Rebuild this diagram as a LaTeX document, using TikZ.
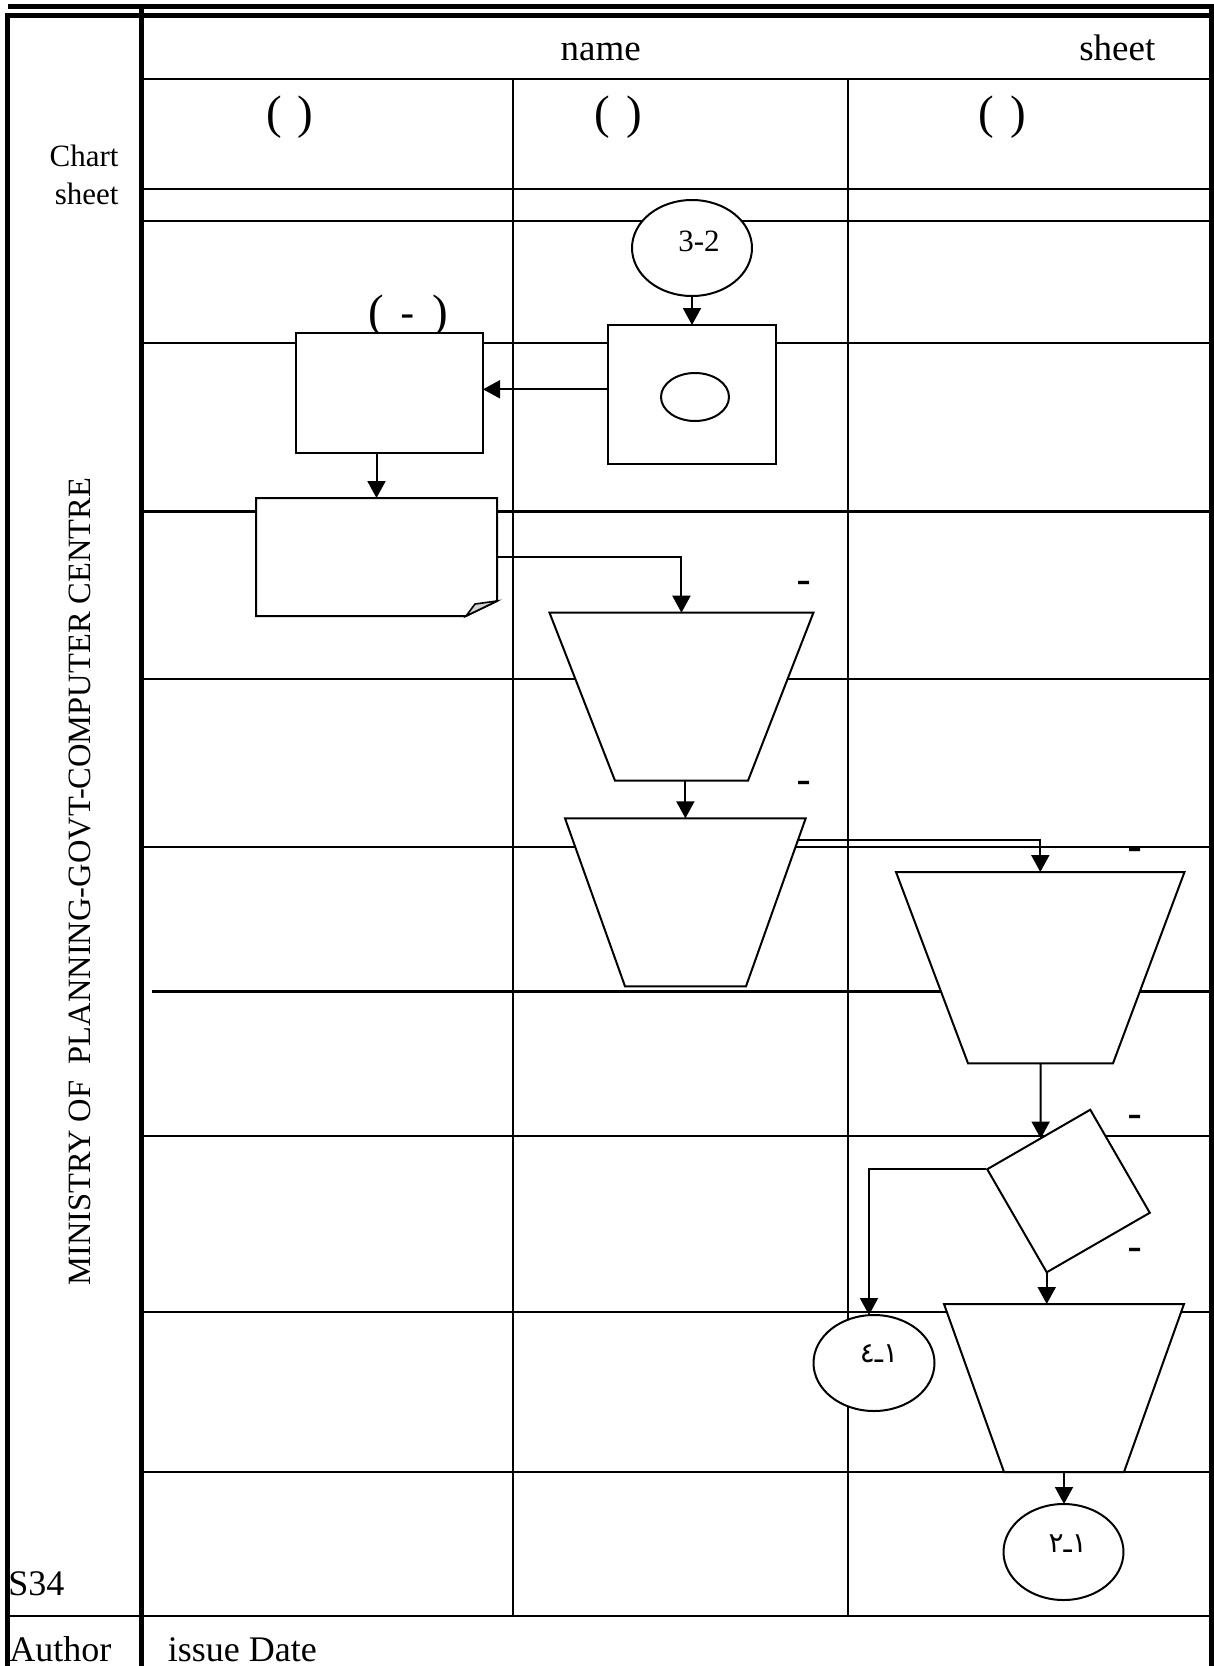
\documentclass[tikz,border=0pt]{standalone}
\usepackage{fontspec}
\setmainfont{Liberation Serif}
\newfontfamily\arabicfont[Script=Arabic]{DejaVu Sans}
\TeXXeTstate=1
\usetikzlibrary{shapes.geometric,arrows.meta}
\tikzset{
  borderline/.style={line width=2.5pt},
  gridline/.style={line width=1.1pt},
  shapebox/.style={draw, fill=white, line width=1pt, inner sep=0pt, outer sep=0pt},
  trapline/.style={draw, fill=white, line width=1pt},
  conn/.style={line width=1pt, -{Triangle[width=9pt,length=8.5pt]}},
  txt/.style={anchor=base, inner sep=0pt, outer sep=0pt},
  dashlbl/.style={txt, font=\arabicfont\fontsize{21pt}{21pt}\selectfont},
  big/.style={font=\fontsize{18.5pt}{18.5pt}\selectfont},
  paren/.style={font=\fontsize{23.5pt}{23.5pt}\selectfont},
}
\begin{document}
\begin{tikzpicture}[x=0.5pt,y=-0.5pt]
\useasboundingbox (0,0) rectangle (1214,1666);
\fill[white] (0,0) rectangle (1214,1666);

% outer frame
\draw[borderline] (8,6.7) -- (1209,6.7);
\draw[borderline] (5,15.8) -- (1214,15.8);
\draw[borderline] (7.5,13.3) -- (7.5,1666);
\draw[borderline] (141,4.3) -- (141,1666);
\draw[borderline] (1211.5,4.3) -- (1211.5,1666);

% grid
\foreach \yy in {79.3,189.3,220.7,343.3,511.5,679,847,1135.7,1311.7,1471.8}
  \draw[gridline] (141,\yy) -- (1211,\yy);
\draw[gridline] (152,991.5) -- (1211,991.5);
\draw[gridline] (7.5,1616.3) -- (1211,1616.3);
\draw[gridline] (513,79.3) -- (513,1616.3);
\draw[gridline] (848.3,79.3) -- (848.3,1616.3);

% header texts
\node[txt,big] (hname) at (600.7,60) {name};
\node[txt,big] (hsheet) at (1117.3,60) {sheet};
\node[txt,paren] (p1) at (290,128) {(\kern2pt\ )};
\node[txt,paren] (p2) at (618.3,128) {(\kern2pt\ )};
\node[txt,paren] (p3) at (1002.5,128) {(\kern2pt\ )};
\node[anchor=base east, inner sep=0pt, font=\fontsize{15.5pt}{15.5pt}\selectfont] (chart) at (119,166.7) {Chart};
\node[anchor=base east, inner sep=0pt, font=\fontsize{15.5pt}{15.5pt}\selectfont] (chsheet) at (119,204) {sheet};
\node[txt, rotate=90, font=\fontsize{16.25pt}{16.25pt}\selectfont] (ministry) at (90,881.5) {MINISTRY OF~~PLANNING-GOVT-COMPUTER CENTRE};
\node[anchor=base west, inner sep=0pt, font=\fontsize{18pt}{18pt}\selectfont] (s34) at (8,1595) {S34};
\node[anchor=base west, inner sep=0pt, font=\fontsize{18pt}{18pt}\selectfont] (author) at (9,1661) {Author};
\node[anchor=base west, inner sep=0pt, font=\fontsize{18pt}{18pt}\selectfont] (idate) at (167.5,1661) {issue Date};

% label above rectA (partly hidden by the box)
\node[txt,paren] (lblA) at (408,327) {(\kern8.5pt{\arabicfont\fontsize{20pt}{20pt}\selectfont -}\kern8.5pt)};

% shapes
\node[shapebox, ellipse, minimum width=60pt, minimum height=48pt] (circA) at (692,248) {};
\node[shapebox, rectangle, minimum width=84pt, minimum height=69.5pt] (rectB) at (692,394.5) {};
\node[shapebox, ellipse, minimum width=34pt, minimum height=24pt] (disk) at (695,397) {};
\node[shapebox, rectangle, minimum width=93.5pt, minimum height=60pt] (rectA) at (389.5,393) {};
\node[inner sep=0pt, outer sep=0pt, minimum width=120.5pt, minimum height=59pt] (doc) at (376.5,557) {};
\draw[fill=white, line width=1pt] (doc.north west) -- (doc.north east) -- ([yshift=7.5pt]doc.south east)
  -- ([xshift=-15.5pt]doc.south east) -- (doc.south west) -- cycle;
\draw[fill=gray!35, line width=0.8pt] ([xshift=-15.5pt]doc.south east) -- ([xshift=-11pt,yshift=6pt]doc.south east)
  -- ([yshift=7.5pt]doc.south east) -- cycle;

% trapezoids (manual operations)
\draw[trapline] (549.5,612.7) coordinate (t1nw) -- (813.4,612.7) coordinate (t1ne)
  -- (748,780.7) coordinate (t1se) -- (615,780.7) coordinate (t1sw) -- cycle;
\coordinate (t1n) at (681.45,612.7);
\coordinate (t1s) at (681.5,780.7);
\draw[trapline] (565,818.3) coordinate (t2nw) -- (805.7,818.3) coordinate (t2ne)
  -- (746,986.3) coordinate (t2se) -- (625,986.3) coordinate (t2sw) -- cycle;
\coordinate (t2n) at (685.4,818.3);
\coordinate (t2r) at (798,840);
\draw[trapline] (896,872) coordinate (t3nw) -- (1184.5,872) coordinate (t3ne)
  -- (1113,1063.3) coordinate (t3se) -- (968,1063.3) coordinate (t3sw) -- cycle;
\coordinate (t3n) at (1040.3,872);
\coordinate (t3s) at (1040.5,1063.3);
\node[shapebox, rectangle, minimum width=59.5pt, minimum height=59.5pt, rotate=30] (diam) at (1068.5,1191) {};
\node[shapebox, ellipse, minimum width=60.5pt, minimum height=48pt] (circC) at (874,1363) {};
\draw[trapline] (944,1304) coordinate (t4nw) -- (1184,1304) coordinate (t4ne)
  -- (1124,1472) coordinate (t4se) -- (1004,1472) coordinate (t4sw) -- cycle;
\coordinate (t4n) at (1064,1304);
\coordinate (t4s) at (1064,1472);
\node[shapebox, ellipse, minimum width=60pt, minimum height=48pt] (circD) at (1063.5,1552) {};

% connectors
\draw[conn] (circA.south) -- (rectB.north);
\draw[conn] ([yshift=2.6pt]rectB.west) -- ([yshift=2.6pt]rectB.west -| rectA.east);
\draw[conn] (rectA.south -| doc.north) -- (doc.north);
\draw[conn] (doc.east) -| (t1n);
\draw[conn] (t1s -| t2n) -- (t2n);
\draw[conn] (t2r) -| (t3n);
\draw[conn] (t3s) -- (intersection of t3s--t3n and diam.north west--diam.north east);
\draw[conn] ([xshift=-0.5pt]diam.north west) -| ([xshift=-2.5pt]circC.north);
\draw[conn] (diam.south west) -- (diam.south west |- t4n);
\draw[conn] (t4s) -- (t4s |- circD.north);

% texts inside shapes
\node[txt, font=\fontsize{15.5pt}{15.5pt}\selectfont] (t32) at (699,251.7) {3-2};
\node[txt, font=\arabicfont\fontsize{14pt}{14pt}\selectfont] (t41) at (879,1362) {\beginR ١ـ٤\endR};
\node[txt, font=\arabicfont\fontsize{14pt}{14pt}\selectfont] (t21) at (1067.7,1552) {\beginR ١ـ٢\endR};

% dash marks
\node[dashlbl] (d1) at (804,594.5) {-};
\node[dashlbl] (d2) at (804,794.5) {-};
\node[dashlbl] (d3) at (1135,861.5) {-};
\node[dashlbl] (d4) at (1135,1128) {-};
\node[dashlbl] (d5) at (1135,1261.5) {-};
\end{tikzpicture}
\end{document}
